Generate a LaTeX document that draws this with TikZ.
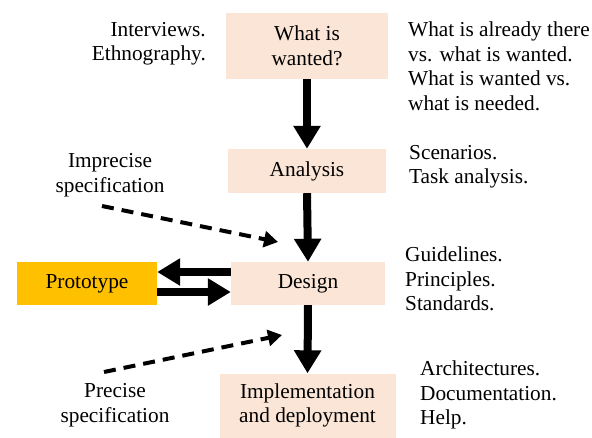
\documentclass[tikz,border=0pt]{standalone}
\usepackage{fontspec}
\setmainfont{Liberation Serif}
\usetikzlibrary{arrows.meta}
\definecolor{boxfill}{HTML}{FBE5D6}
\definecolor{proto}{HTML}{FFC000}
\begin{document}
\begin{tikzpicture}[x=1pt,y=-1pt,
  font=\rmfamily\fontsize{21.3}{24.5}\selectfont,
  stage/.style={fill=boxfill, align=center, inner sep=0pt},
  lbl/.style={align=left, inner sep=0pt, anchor=north west},
  bigarrow/.style={line width=8pt, -{Triangle[length=23pt,width=26pt]}},
  dasharrow/.style={line width=4pt, dash pattern=on 12pt off 8pt, -{Triangle[length=14pt,width=16pt]}}]
\useasboundingbox (0,0) rectangle (592,437);
\node[stage, minimum width=162pt, minimum height=66pt] (want) at (307,46) {What is\\wanted?};
\node[stage, minimum width=158pt, minimum height=44pt] (anal) at (307,171) {Analysis};
\node[stage, minimum width=154pt, minimum height=43pt] (design) at (308,283.5) {Design};
\node[fill=proto, minimum width=140pt, minimum height=43pt, inner sep=0pt] (proto) at (87,283.5) {Prototype};
\node[stage, minimum width=176pt, minimum height=64pt] (impl) at (307.5,405.5) {Implementation\\and deployment};

\draw[bigarrow] (want.south) -- (anal.north);
\draw[bigarrow] (anal.south) -- (design.north);
\draw[bigarrow] (design.south) -- (impl.north);
\draw[bigarrow] ([yshift=11.5pt]design.west) -- ([yshift=11.5pt]proto.east);
\draw[bigarrow] ([yshift=-8.5pt]proto.east) -- ([yshift=-8.5pt]design.west);

\node[align=right, inner sep=0pt, anchor=north east] (intv) at (206,22) {Interviews.\\Ethnography.};
\node[lbl] (wtxt) at (408,22) {What is already there\\vs. what is wanted.\\What is wanted vs.\\what is needed.};
\node[lbl] (stxt) at (409,145) {Scenarios.\\Task analysis.};
\node[lbl] (gtxt) at (405,247) {Guidelines.\\Principles.\\Standards.};
\node[lbl] (atxt) at (420,361) {Architectures.\\Documentation.\\Help.};
\node[align=center, inner sep=0pt] (imp) at (110,175) {Imprecise\\specification};
\node[align=center, inner sep=0pt] (pre) at (115,405) {Precise\\specification};

\coordinate (i1) at (102,206);
\coordinate (i2) at (278,242);
\coordinate (p1) at (104,372);
\coordinate (p2) at (282,335);
\draw[dasharrow] (i1) -- (i2);
\draw[dasharrow] (p1) -- (p2);
\end{tikzpicture}
\end{document}
